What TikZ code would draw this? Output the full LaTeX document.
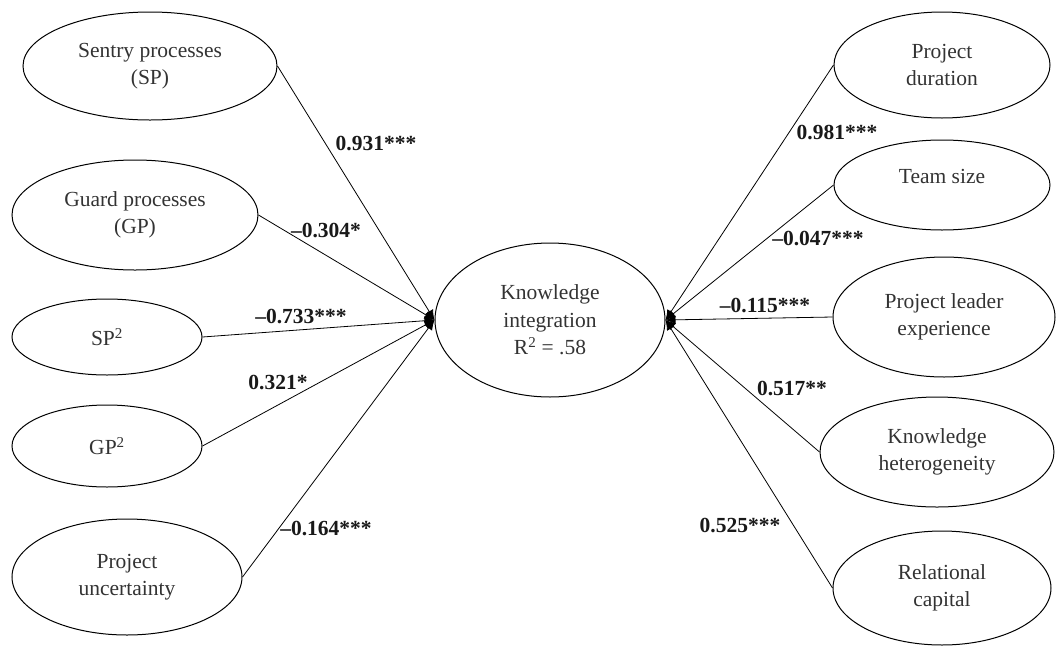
\documentclass[tikz,border=0pt]{standalone}
\usepackage{fontspec}
\setmainfont{Liberation Serif}
\usetikzlibrary{arrows.meta,shapes.geometric}
\begin{document}
\begin{tikzpicture}[x=1pt,y=-1pt,
  var/.style={draw=black, line width=1pt, ellipse, inner sep=0pt, align=center,
    font=\fontsize{21.5}{27.5}\selectfont, text=black!80},
  sz/.style 2 args={minimum width=#1, minimum height=#2},
  lbl/.style={font=\bfseries\fontsize{21.5}{25}\selectfont, text=black!90, inner sep=0pt},
  conn/.style={draw=black, line width=0.8pt, -{Latex[length=10pt,width=9pt]}}]
\useasboundingbox (0,0) rectangle (1058,646);

% left predictors
\node[var, sz={254pt}{108pt}] (sp)  at (150,66)  {Sentry processes\\(SP)};
\node[var, sz={246pt}{110pt}] (gp)  at (135,215) {Guard processes\\(GP)};
\node[var, sz={190pt}{76pt}]  (sp2) at (107,337) {SP\textsuperscript{2}};
\node[var, sz={190pt}{82pt}]  (gp2) at (107,446) {GP\textsuperscript{2}};
\node[var, sz={230pt}{116pt}] (pu)  at (127,577) {Project\\uncertainty};

% centre
\node[var, sz={230pt}{154pt}] (ki)  at (550,320) {Knowledge\\integration\\R\textsuperscript{2} = .58};

% right controls
\node[var, sz={216pt}{106pt}] (pd)  at (942,65)  {Project\\duration};
\node[var, sz={216pt}{90pt}]  (ts)  at (942,185) {\raisebox{2pt}[0pt][0pt]{Team size}};
\node[var, sz={222pt}{120pt}] (ple) at (944,317) {Project leader\\experience};
\node[var, sz={234pt}{110pt}] (kh)  at (937,452) {Knowledge\\heterogeneity};
\node[var, sz={218pt}{114pt}] (rc)  at (942,588) {Relational\\capital};

% connectors
\draw[conn] (sp.east)  -- (ki.west);
\draw[conn] (gp.east)  -- (ki.west);
\draw[conn] (sp2.east) -- (ki.west);
\draw[conn] (gp2.east) -- (ki.west);
\draw[conn] (pu.east)  -- (ki.west);
\draw[conn] (pd.west)  -- (ki.east);
\draw[conn] (ts.west)  -- (ki.east);
\draw[conn] (ple.west) -- (ki.east);
\draw[conn] (kh.west)  -- (ki.east);
\draw[conn] (rc.west)  -- (ki.east);

% coefficients
\node[lbl] (l1) at (376,143) {0.931***};
\node[lbl] (l2) at (326,230) {\textendash0.304*};
\node[lbl] (l3) at (301,316) {\textendash0.733***};
\node[lbl] (l4) at (278,382) {0.321*};
\node[lbl] (l5) at (326,528) {\textendash0.164***};
\node[lbl] (r1) at (837,132) {0.981***};
\node[lbl] (r2) at (818,238) {\textendash0.047***};
\node[lbl] (r3) at (765,305) {\textendash0.115***};
\node[lbl] (r4) at (792,388) {0.517**};
\node[lbl] (r5) at (740,525) {0.525***};
\end{tikzpicture}
\end{document}
